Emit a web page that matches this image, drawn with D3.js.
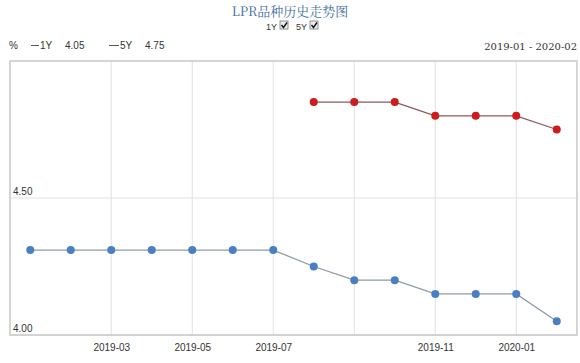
<!DOCTYPE html>
<html>
<head>
<meta charset="utf-8">
<script src="https://cdn.jsdelivr.net/npm/d3@7"></script>
<style>
  body { margin: 0; background: #fff; }
  #chart { width: 580px; height: 363px; }
  text { font-family: Arial, "Liberation Sans", sans-serif; }
</style>
</head>
<body>
<div id="chart"></div>
<script>
//Datos
const months = ['2019-01','2019-02','2019-03','2019-04','2019-05','2019-06','2019-07','2019-08','2019-09','2019-10','2019-11','2019-12','2020-01','2020-02'];
const lpr1y = [4.31,4.31,4.31,4.31,4.31,4.31,4.31,4.25,4.20,4.20,4.15,4.15,4.15,4.05];
const lpr5y = [null,null,null,null,null,null,null,4.85,4.85,4.85,4.80,4.80,4.80,4.75];
const xTickLabels = ['2019-03','2019-05','2019-07','2019-11','2020-01'];
const xGridMonths = ['2019-03','2019-05','2019-07','2019-09','2019-11','2020-01'];
const yTicks = [4.00, 4.50];

//Colores
const COLOR_1Y_LINE = '#8d9aa6', COLOR_1Y_DOT = '#4a80c2',
      COLOR_5Y_LINE = '#8c5a5a', COLOR_5Y_DOT = '#cc1c1c',
      COLOR_GRID = '#e2e2e2', COLOR_FRAME = '#c8c8c8';

let margin = {top: 61, right: 3, bottom: 28, left: 10},
    width = 580 - margin.left - margin.right,
    height = 363 - margin.top - margin.bottom;

let svg = d3.select('#chart').append('svg')
    .attr('width', 580).attr('height', 363);

//Cabecera
svg.append('text')
    .attr('x', 290).attr('y', 16)
    .attr('text-anchor', 'middle')
    .style('font-family', '"Noto Serif CJK SC", "Noto Sans CJK SC", serif')
    .style('font-size', '13px')
    .attr('fill', '#3f6f9c')
    .text('LPR品种历史走势图');

let checks = svg.append('g').style('font-family', '"DejaVu Serif", "Liberation Serif", serif')
    .style('font-size', '9px').attr('fill', '#333');
[['1Y', 266], ['5Y', 296]].forEach(function(c) {
    checks.append('text').attr('x', c[1]).attr('y', 30).text(c[0]);
    checks.append('rect').attr('x', c[1] + 14).attr('y', 21).attr('width', 8).attr('height', 8)
        .attr('fill', '#eee').attr('stroke', '#777').attr('stroke-width', 0.8);
    checks.append('path').attr('d', 'M' + (c[1] + 15.5) + ',25 l2,2.5 l3.5,-5')
        .attr('fill', 'none').attr('stroke', '#111').attr('stroke-width', 1.4);
});

//Leyenda
let legend = svg.append('g').style('font-size', '10px').attr('fill', '#333');
legend.append('text').attr('x', 9).attr('y', 49).text('%');
legend.append('line').attr('x1', 31).attr('x2', 39).attr('y1', 45.5).attr('y2', 45.5).attr('stroke', '#555');
legend.append('text').attr('x', 40).attr('y', 49).text('1Y');
legend.append('text').attr('x', 65).attr('y', 49).text(lpr1y[lpr1y.length - 1].toFixed(2));
legend.append('line').attr('x1', 109).attr('x2', 119).attr('y1', 45.5).attr('y2', 45.5).attr('stroke', '#555');
legend.append('text').attr('x', 120).attr('y', 49).text('5Y');
legend.append('text').attr('x', 145).attr('y', 49).text(lpr5y[lpr5y.length - 1].toFixed(2));
svg.append('text').attr('x', 577).attr('y', 50).attr('text-anchor', 'end')
    .style('font-family', '"DejaVu Serif", "Liberation Serif", serif')
    .style('font-size', '10px').attr('fill', '#333')
    .text(months[0] + ' - ' + months[months.length - 1]);

let g = svg.append('g').attr('transform', 'translate(' + margin.left + ',' + margin.top + ')');

let x = d3.scalePoint().domain(months).range([0, width]).padding(0.5);
let y = d3.scaleLinear().domain([4.0, 5.0]).range([height, 0]);

//Rejilla
g.selectAll('.vgrid').data(xGridMonths).enter().append('line')
    .attr('x1', d => x(d)).attr('x2', d => x(d))
    .attr('y1', 0).attr('y2', height)
    .attr('stroke', COLOR_GRID);
g.selectAll('.hgrid').data(yTicks).enter().append('line')
    .attr('x1', 0).attr('x2', width)
    .attr('y1', d => y(d)).attr('y2', d => y(d))
    .attr('stroke', COLOR_GRID);
g.append('rect').attr('width', width).attr('height', height)
    .attr('fill', 'none').attr('stroke', COLOR_FRAME).attr('stroke-width', 1.5);

//Ejes
g.selectAll('.ylab').data(yTicks).enter().append('text')
    .attr('x', 3).attr('y', d => y(d) - 3)
    .style('font-size', '10px').attr('fill', '#333')
    .text(d => d.toFixed(2));

let xAxis = g.append('g').attr('transform', 'translate(0,' + height + ')')
    .call(d3.axisBottom(x).tickValues(xTickLabels).tickSize(0).tickPadding(9));
xAxis.select('.domain').remove();
xAxis.selectAll('text').style('font-size', '10px').attr('fill', '#333')
    .style('font-family', 'Arial, "Liberation Sans", sans-serif');

//Series
function drawSeries(values, lineColor, dotColor) {
    let pts = months.map((m, i) => ({m: m, v: values[i]})).filter(d => d.v != null);
    g.append('path').datum(pts)
        .attr('fill', 'none').attr('stroke', lineColor).attr('stroke-width', 1.3)
        .attr('d', d3.line().x(d => x(d.m)).y(d => y(d.v)));
    g.selectAll(null).data(pts).enter().append('circle')
        .attr('cx', d => x(d.m)).attr('cy', d => y(d.v)).attr('r', 4)
        .attr('fill', dotColor);
}
drawSeries(lpr1y, COLOR_1Y_LINE, COLOR_1Y_DOT);
drawSeries(lpr5y, COLOR_5Y_LINE, COLOR_5Y_DOT);
</script>
</body>
</html>
